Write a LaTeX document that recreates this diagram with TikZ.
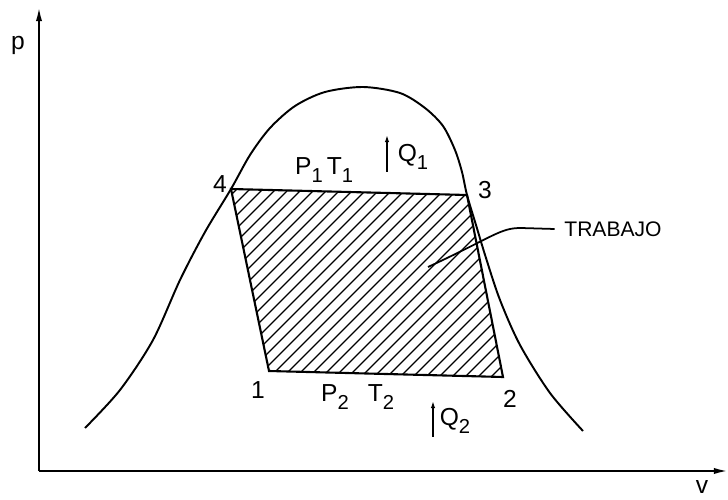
\documentclass[tikz,border=0pt]{standalone}
\usepackage{fontspec}
\setmainfont{Liberation Sans}
\usetikzlibrary{arrows.meta}
\newcommand{\lowidx}[1]{\raisebox{-0.6ex}{\fontsize{11.5}{12}\selectfont #1}}

\begin{document}
\begin{tikzpicture}[x=0.02cm, y=-0.02cm, font=\fontsize{14}{16}\selectfont,
		axis/.style={line width=1.1pt, -{Latex[length=8pt,width=3.5pt]}},
		heat/.style={line width=1pt, -{Latex[length=4pt,width=2.5pt]}}]
		\useasboundingbox (0,0) rectangle (728,500);
		% axes
		\coordinate (o) at (39,471);
		\coordinate (ptop) at (39,7);
		\coordinate (vend) at (728,471);
		\draw[axis] (o) -- (ptop);
		\draw[axis] (o) -- (vend);
		\node (p) at (18,45) {p};
		\node (v) at (702,487) {v};
		% corners of the cycle
		\coordinate (c1) at (269,371);
		\coordinate (c2) at (503,377);
		\coordinate (c3) at (467,195);
		\coordinate (c4) at (231,189);
		\begin{scope}
			\clip (c1) -- (c2) -- (c3) -- (c4) -- cycle;
			\foreach \k in {400,413,...,900}
				\draw[line width=0.8pt] (\k-150,150) -- (\k-400,400);
		\end{scope}
		\draw[line width=1.2pt] (c1) -- (c2) -- (c3) -- (c4) -- cycle;
		% saturation curve
		\draw[line width=1.1pt] plot[smooth] coordinates {(85,428) (120,390) (153,340) (180,280)
			(205,232) (231,189) (250,155) (270,128) (295,106) (325,92) (363,87) (400,93)
			(425,108) (443,126) (455,150) (462,172) (467,195) (476,225) (486,258)
			(500,300) (520,345) (550,393) (583,431)};
		% labels
		\node (l4) at (220,184) {4};
		\node (l3) at (485,190) {3};
		\node (l1) at (258,390) {1};
		\node (l2) at (510,399) {2};
		\node (p1) at (309,170) {P\lowidx{1}};
		\node (t1) at (340,170) {T\lowidx{1}};
		\node (p2) at (335,397) {P\lowidx{2}};
		\node (t2) at (381,397) {T\lowidx{2}};
		% heat
		\coordinate (q1a) at (387,172);
		\coordinate (q1b) at (387,135);
		\draw[heat] (q1a) -- (q1b);
		\node (q1) at (413,157) {Q\lowidx{1}};
		\coordinate (q2a) at (433,437);
		\coordinate (q2b) at (433,401);
		\draw[heat] (q2a) -- (q2b);
		\node (q2) at (455,421) {Q\lowidx{2}};
		% work
		\node[font=\fontsize{12}{14}\selectfont] (trabajo) at (613,229) {TRABAJO};
		\coordinate (kink) at (521,228);
		\coordinate (wk) at (428,267);
		\draw[line width=1pt] ([xshift=-2pt]trabajo.west) -- (kink) .. controls (500,228) and (495,236) .. (wk);
	\end{tikzpicture}
\end{document}
